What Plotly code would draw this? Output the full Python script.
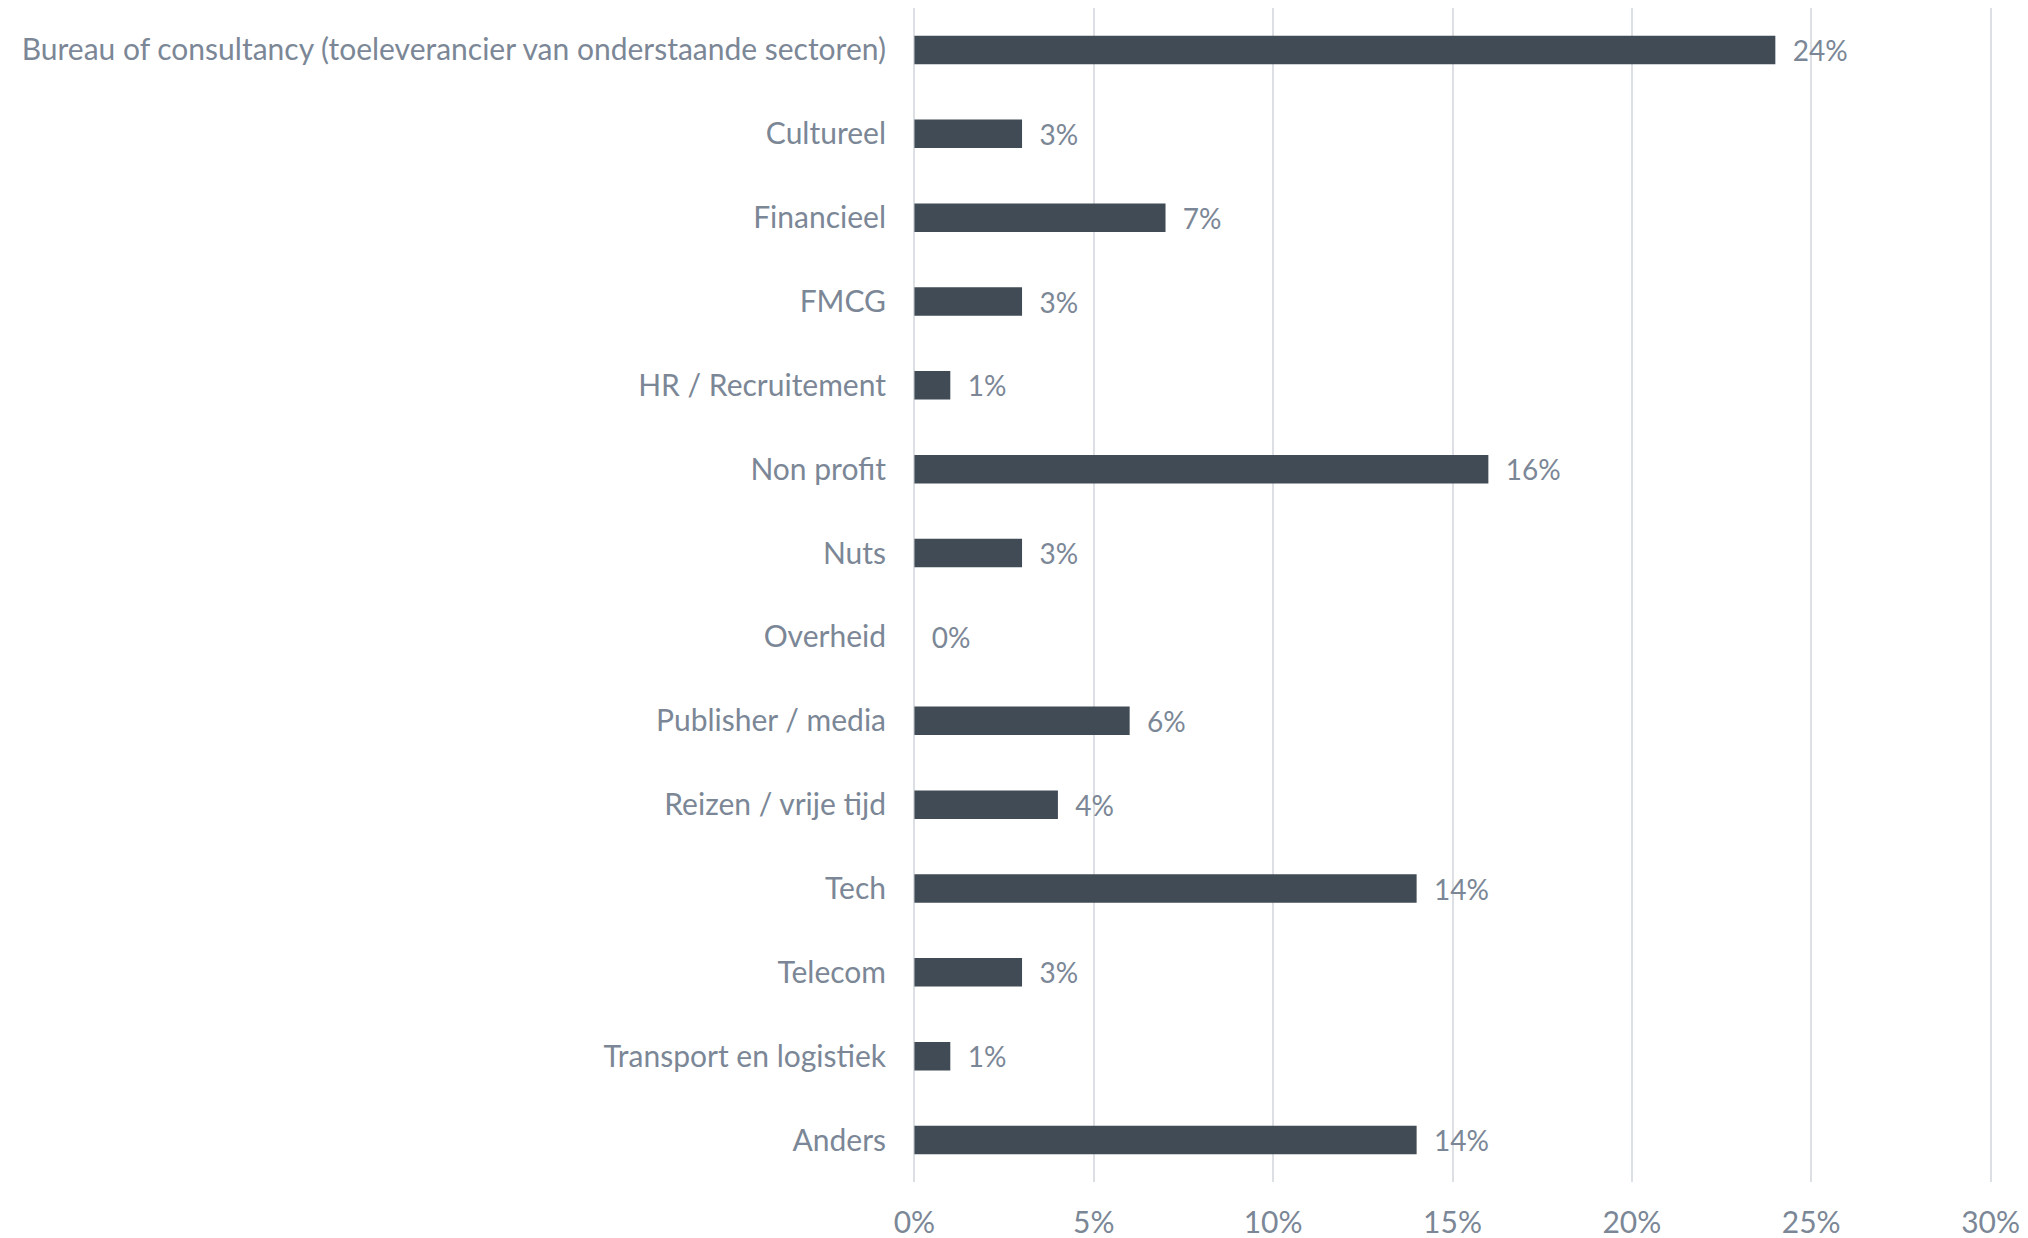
import plotly.graph_objects as go

# ---------------------------------------------------------------------------
# Data
# ---------------------------------------------------------------------------

sectors = [
    "Bureau of consultancy (toeleverancier van onderstaande sectoren)",
    "Cultureel",
    "Financieel",
    "FMCG",
    "HR / Recruitement",
    "Non profit",
    "Nuts",
    "Overheid",
    "Publisher / media",
    "Reizen / vrije tijd",
    "Tech",
    "Telecom",
    "Transport en logistiek",
    "Anders",
]
shares = [0.24, 0.03, 0.07, 0.03, 0.01, 0.16, 0.03, 0.0, 0.06, 0.04, 0.14, 0.03, 0.01, 0.14]
x_ticks = [0, 0.05, 0.10, 0.15, 0.20, 0.25, 0.30]

text_color = "#7b8796"
bar_color = "#414b55"
font_family = "Lato, 'Open Sans', sans-serif"
font_size = 30

fig = go.Figure()
fig.add_trace(go.Bar(
    x=shares,
    y=sectors,
    orientation="h",
    marker=dict(color=bar_color, line=dict(width=0)),
    text=["\u00a0\u00a0" + f"{v:.0%}" for v in shares],
    textposition="outside",
    constraintext="none",
    cliponaxis=False,
    textfont=dict(color=text_color, size=28, family=font_family),
))

# page body adds 8px margin, so the figure is a bit smaller than the window
fig.update_layout(
    width=2012,
    height=1230,
    margin=dict(l=905, r=28, t=0, b=56),
    paper_bgcolor="white",
    plot_bgcolor="white",
    bargap=0.66,
    showlegend=False,
    font=dict(family=font_family, color=text_color, size=font_size),
)
# pad the range a hair so the 0% and 30% grid lines are still drawn
fig.update_xaxes(
    range=[-0.0004, 0.3004],
    tickvals=x_ticks,
    tickformat=".0%",
    showgrid=True,
    gridcolor="#dcdfe4",
    gridwidth=1.5,
    zeroline=False,
    showline=False,
    automargin=False,
    ticklabelstandoff=20,
    tickfont=dict(size=font_size, color=text_color),
)
fig.update_yaxes(
    autorange="reversed",
    showgrid=False,
    showline=False,
    automargin=False,
    ticklabelstandoff=26,
    tickfont=dict(size=font_size, color=text_color),
)

fig.write_html("out.html")
